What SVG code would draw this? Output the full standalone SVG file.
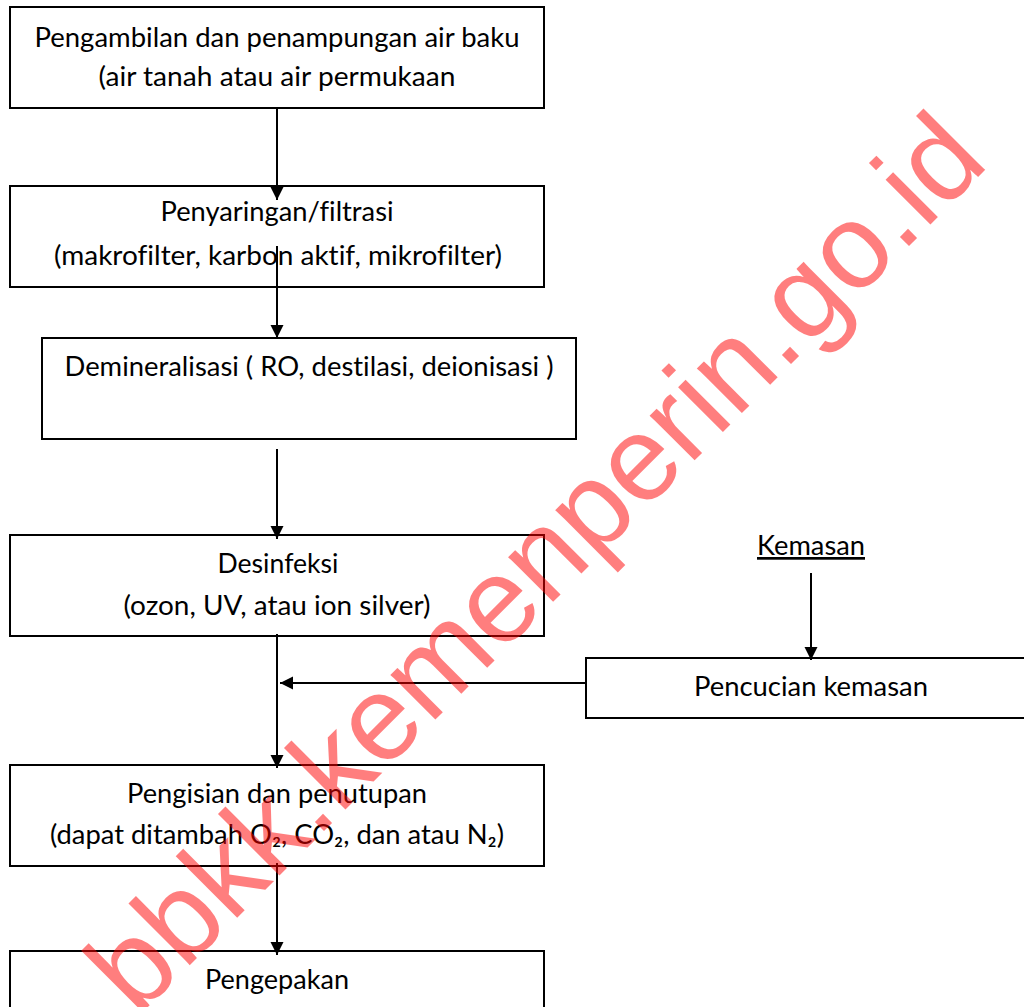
<svg xmlns="http://www.w3.org/2000/svg" width="1024" height="1007" viewBox="0 0 1024 1007">
  <defs>
    <marker id="arr" markerUnits="userSpaceOnUse" markerWidth="14" markerHeight="14" viewBox="0 0 14 14" refX="13" refY="7" orient="auto">
      <path d="M0,0.5 L13,7 L0,13.5 Z" fill="#000"/>
    </marker>
  </defs>
  <style>
    .box { fill: #fff; stroke: #000; stroke-width: 2; }
    .lbl { font-family: Lato, "Liberation Sans", sans-serif; font-size: 27px; fill: #000; text-anchor: middle; font-variant-ligatures: none; }
    .conn { stroke: #000; stroke-width: 2; fill: none; marker-end: url(#arr); }
    .wm { font-family: "Liberation Sans", Arial, sans-serif; font-size: 120px; fill: #ff0000; opacity: 0.5; }
  </style>
  <rect width="1024" height="1007" fill="#fff"/>

  <g id="n1">
    <rect class="box" x="10" y="7" width="534" height="101"/>
    <text class="lbl" x="277" y="47" textLength="485" lengthAdjust="spacingAndGlyphs">Pengambilan dan penampungan air baku</text>
    <text class="lbl" x="277" y="86" textLength="357" lengthAdjust="spacingAndGlyphs">(air tanah atau air permukaan</text>
  </g>
  <g id="n2">
    <rect class="box" x="10" y="186" width="534" height="101"/>
    <text class="lbl" x="277" y="221" textLength="233" lengthAdjust="spacingAndGlyphs">Penyaringan/filtrasi</text>
    <text class="lbl" x="278" y="265" textLength="448" lengthAdjust="spacingAndGlyphs">(makrofilter, karbon aktif, mikrofilter)</text>
  </g>
  <g id="n3">
    <rect class="box" x="42" y="338" width="534" height="101"/>
    <text class="lbl" x="309" y="376" textLength="489" lengthAdjust="spacingAndGlyphs">Demineralisasi ( RO, destilasi, deionisasi )</text>
  </g>
  <g id="n4">
    <rect class="box" x="10" y="535" width="534" height="101"/>
    <text class="lbl" x="278" y="573" textLength="121" lengthAdjust="spacingAndGlyphs">Desinfeksi</text>
    <text class="lbl" x="277" y="615" textLength="307" lengthAdjust="spacingAndGlyphs">(ozon, UV, atau ion silver)</text>
  </g>
  <g id="n5">
    <text class="lbl" x="811" y="555" textLength="108" lengthAdjust="spacingAndGlyphs" text-decoration="underline">Kemasan</text>
  </g>
  <g id="n6">
    <rect class="box" x="586" y="658" width="450" height="60"/>
    <text class="lbl" x="811" y="696" textLength="234" lengthAdjust="spacingAndGlyphs">Pencucian kemasan</text>
  </g>
  <g id="n7">
    <rect class="box" x="10" y="765" width="534" height="101"/>
    <text class="lbl" x="277" y="803" textLength="300" lengthAdjust="spacingAndGlyphs">Pengisian dan penutupan</text>
    <text class="lbl" x="277" y="844" textLength="454" lengthAdjust="spacingAndGlyphs">(dapat ditambah O₂, CO₂, dan atau N₂)</text>
  </g>
  <g id="n8">
    <rect class="box" x="10" y="951" width="534" height="80"/>
    <text class="lbl" x="277" y="989" textLength="144" lengthAdjust="spacingAndGlyphs">Pengepakan</text>
  </g>

  <g id="connectors">
    <path class="conn" d="M277,108 L277,200"/>
    <path class="conn" d="M277,246 L277,338"/>
    <path class="conn" d="M277,449 L277,539"/>
    <path class="conn" d="M277,634 L277,768"/>
    <path class="conn" d="M586,683 L280,683"/>
    <path class="conn" d="M811,573 L811,660"/>
    <path class="conn" d="M277,863 L277,955"/>
  </g>

  <text class="wm" x="137" y="1018" transform="rotate(-45 137 1018)">bbkk.kemenperin.go.id</text>
</svg>
